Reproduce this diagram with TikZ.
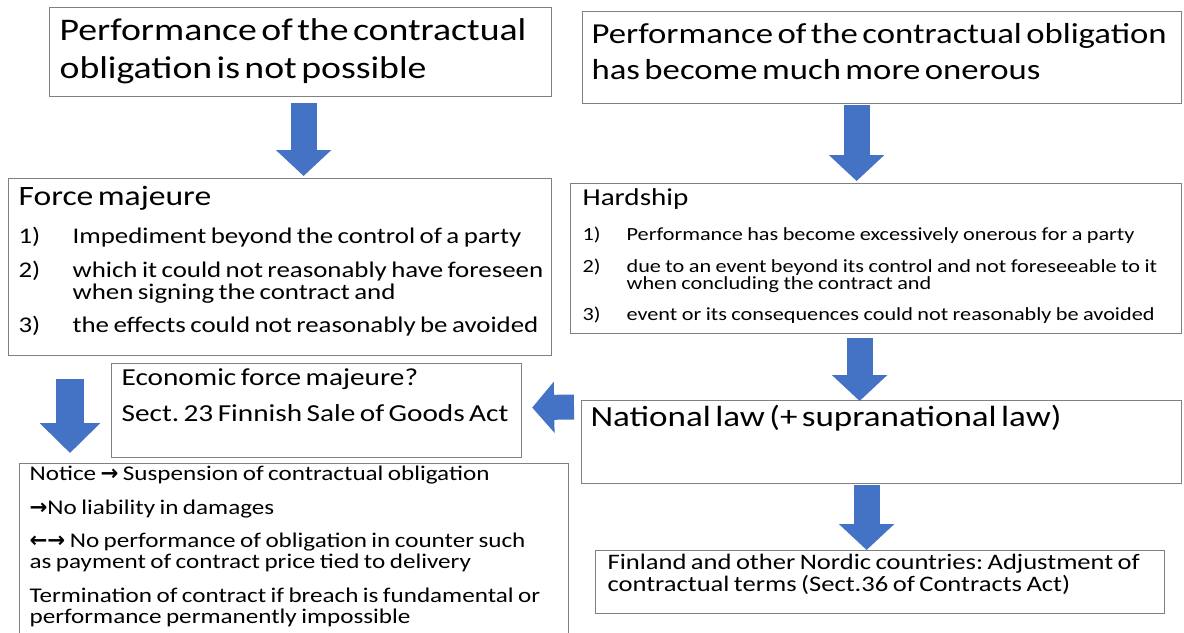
\documentclass[tikz,border=0pt]{standalone}
\usepackage{fontspec}
\setmainfont{Carlito}[FakeStretch=1.2]
\newfontfamily\symb{DejaVu Sans}
\usetikzlibrary{arrows.meta,calc}

\definecolor{boxgray}{RGB}{128,128,128}
\definecolor{arrowblue}{RGB}{68,114,196}
\newcommand{\fs}[2]{\fontsize{#1}{#2}\selectfont}
\newcommand{\arr}[1]{{\symb\bfseries\fs{16}{14}#1}}
\frenchspacing
\lineskiplimit=-\maxdimen

\begin{document}
\begin{tikzpicture}[x=0.75pt,y=-0.75pt,
	box/.style={draw=boxgray,line width=0.9pt,anchor=north west,align=left,inner ysep=0pt},
	blockarr/.style={draw=arrowblue,line width=19.5pt,-{Triangle[width=40.5pt,length=19.5pt]}}]
	\def\fmind{40.5pt}
	\def\hdind{33pt}
	\clip (0,0) rectangle (1184,632);
	% top row: the two starting situations
	\node[box,inner xsep=7.5pt,text width=361.5pt,text height=24.75pt,text depth=42pt] (boxA) at (49,7)
		{\fs{23.6}{28.5}Performance of the contractual\\obligation is not possible\par};
	\node[box,inner xsep=6.75pt,text width=435.75pt,text height=24pt,text depth=45pt] (boxB) at (582,11)
		{\fs{21.7}{27}\mbox{Performance of the contractual obligation}\\has become much more onerous\par};
	% the two doctrines
	\node[box,inner xsep=7.5pt,text width=392.25pt,text height=20.25pt,text depth=112.5pt] (fm) at (8,178)
		{\fs{21}{22}Force majeure\par\vspace{12pt}
		\fs{16.8}{16.5}\makebox[\fmind][l]{1)}Impediment beyond the control of a party\\[8.6pt]
		\makebox[\fmind][l]{2)}\mbox{which it could not reasonably have foreseen}\\
		\hspace*{\fmind}when signing the contract and\\[8.6pt]
		\makebox[\fmind][l]{3)}\mbox{the effects could not reasonably be avoided}\par};
	\node[box,inner xsep=9pt,text width=440.25pt,text height=16.5pt,text depth=96pt] (hard) at (570,183)
		{\fs{18.2}{20}Hardship\par\vspace{12.25pt}
		\fs{13.9}{12.75}\makebox[\hdind][l]{1)}\mbox{Performance has become excessively onerous for a party}\\[10.9pt]
		\makebox[\hdind][l]{2)}\mbox{due to an event beyond its control and not foreseeable to it}\\
		\hspace*{\hdind}when concluding the contract and\\[10.9pt]
		\makebox[\hdind][l]{3)}\mbox{event or its consequences could not reasonably be avoided}\par};
	% consequences
	\node[box,inner xsep=7.5pt,text width=292.5pt,text height=16.5pt,text depth=54pt] (eco) at (111,363)
		{\fs{18.3}{27}Economic force majeure?\\\mbox{Sect.\ 23 Finnish Sale of Goods Act}\par};
	\node[box,inner xsep=6.75pt,text width=436.5pt,text height=19.5pt,text depth=42.75pt] (nat) at (581,400)
		{\fs{21.9}{24}National law (+ supranational law)\par};
	\node[box,inner xsep=7.5pt,text width=396.75pt,text height=12.75pt,text depth=129pt] (notice) at (19,463)
		{\fs{15.7}{15.75}Notice \arr{→} Suspension of contractual obligation\\[9.4pt]
		\arr{→}No liability in damages\\[9.4pt]
		\mbox{\arr{←→} No performance of obligation in counter such}\\
		as payment of contract price tied to delivery\\[9.4pt]
		\mbox{Termination of contract if breach is fundamental or}\\
		performance permanently impossible\par};
	\node[box,inner xsep=9pt,text width=408.75pt,text height=14.25pt,text depth=33pt] (fin) at (595,550)
		{\fs{16.6}{16.5}\mbox{Finland and other Nordic countries: Adjustment of}\\contractual terms (Sect.36 of Contracts Act)\par};
	% block arrows
	\draw[blockarr] ($(boxA.south)+(3,6)$) -- ($(boxA.south |- fm.north)+(3,-2)$);
	\draw[blockarr] ($(boxB.south)+(-25.5,1)$) -- ($(boxB.south |- hard.north)+(-25.5,-2)$);
	\draw[blockarr] ($(hard.south)+(-16.5,4)$) -- ($(hard.south |- nat.north)+(-16.5,1)$);
	\draw[blockarr] ($(nat.south)+(-15,1)$) -- ($(nat.south |- fin.north)+(-15,0)$);
	\draw[blockarr,line width=18.75pt,-{Triangle[width=37.5pt,length=16.5pt]}] ($(nat.north west)+(-7,7)$) -- ($(eco.east)+(10,-3)$);
	\draw[blockarr,line width=21pt,-{Triangle[width=44.25pt,length=22.5pt]}] ($(fm.south west)+(62,23)$) -- ($(notice.north west)+(51,-10)$);
\end{tikzpicture}
\end{document}
